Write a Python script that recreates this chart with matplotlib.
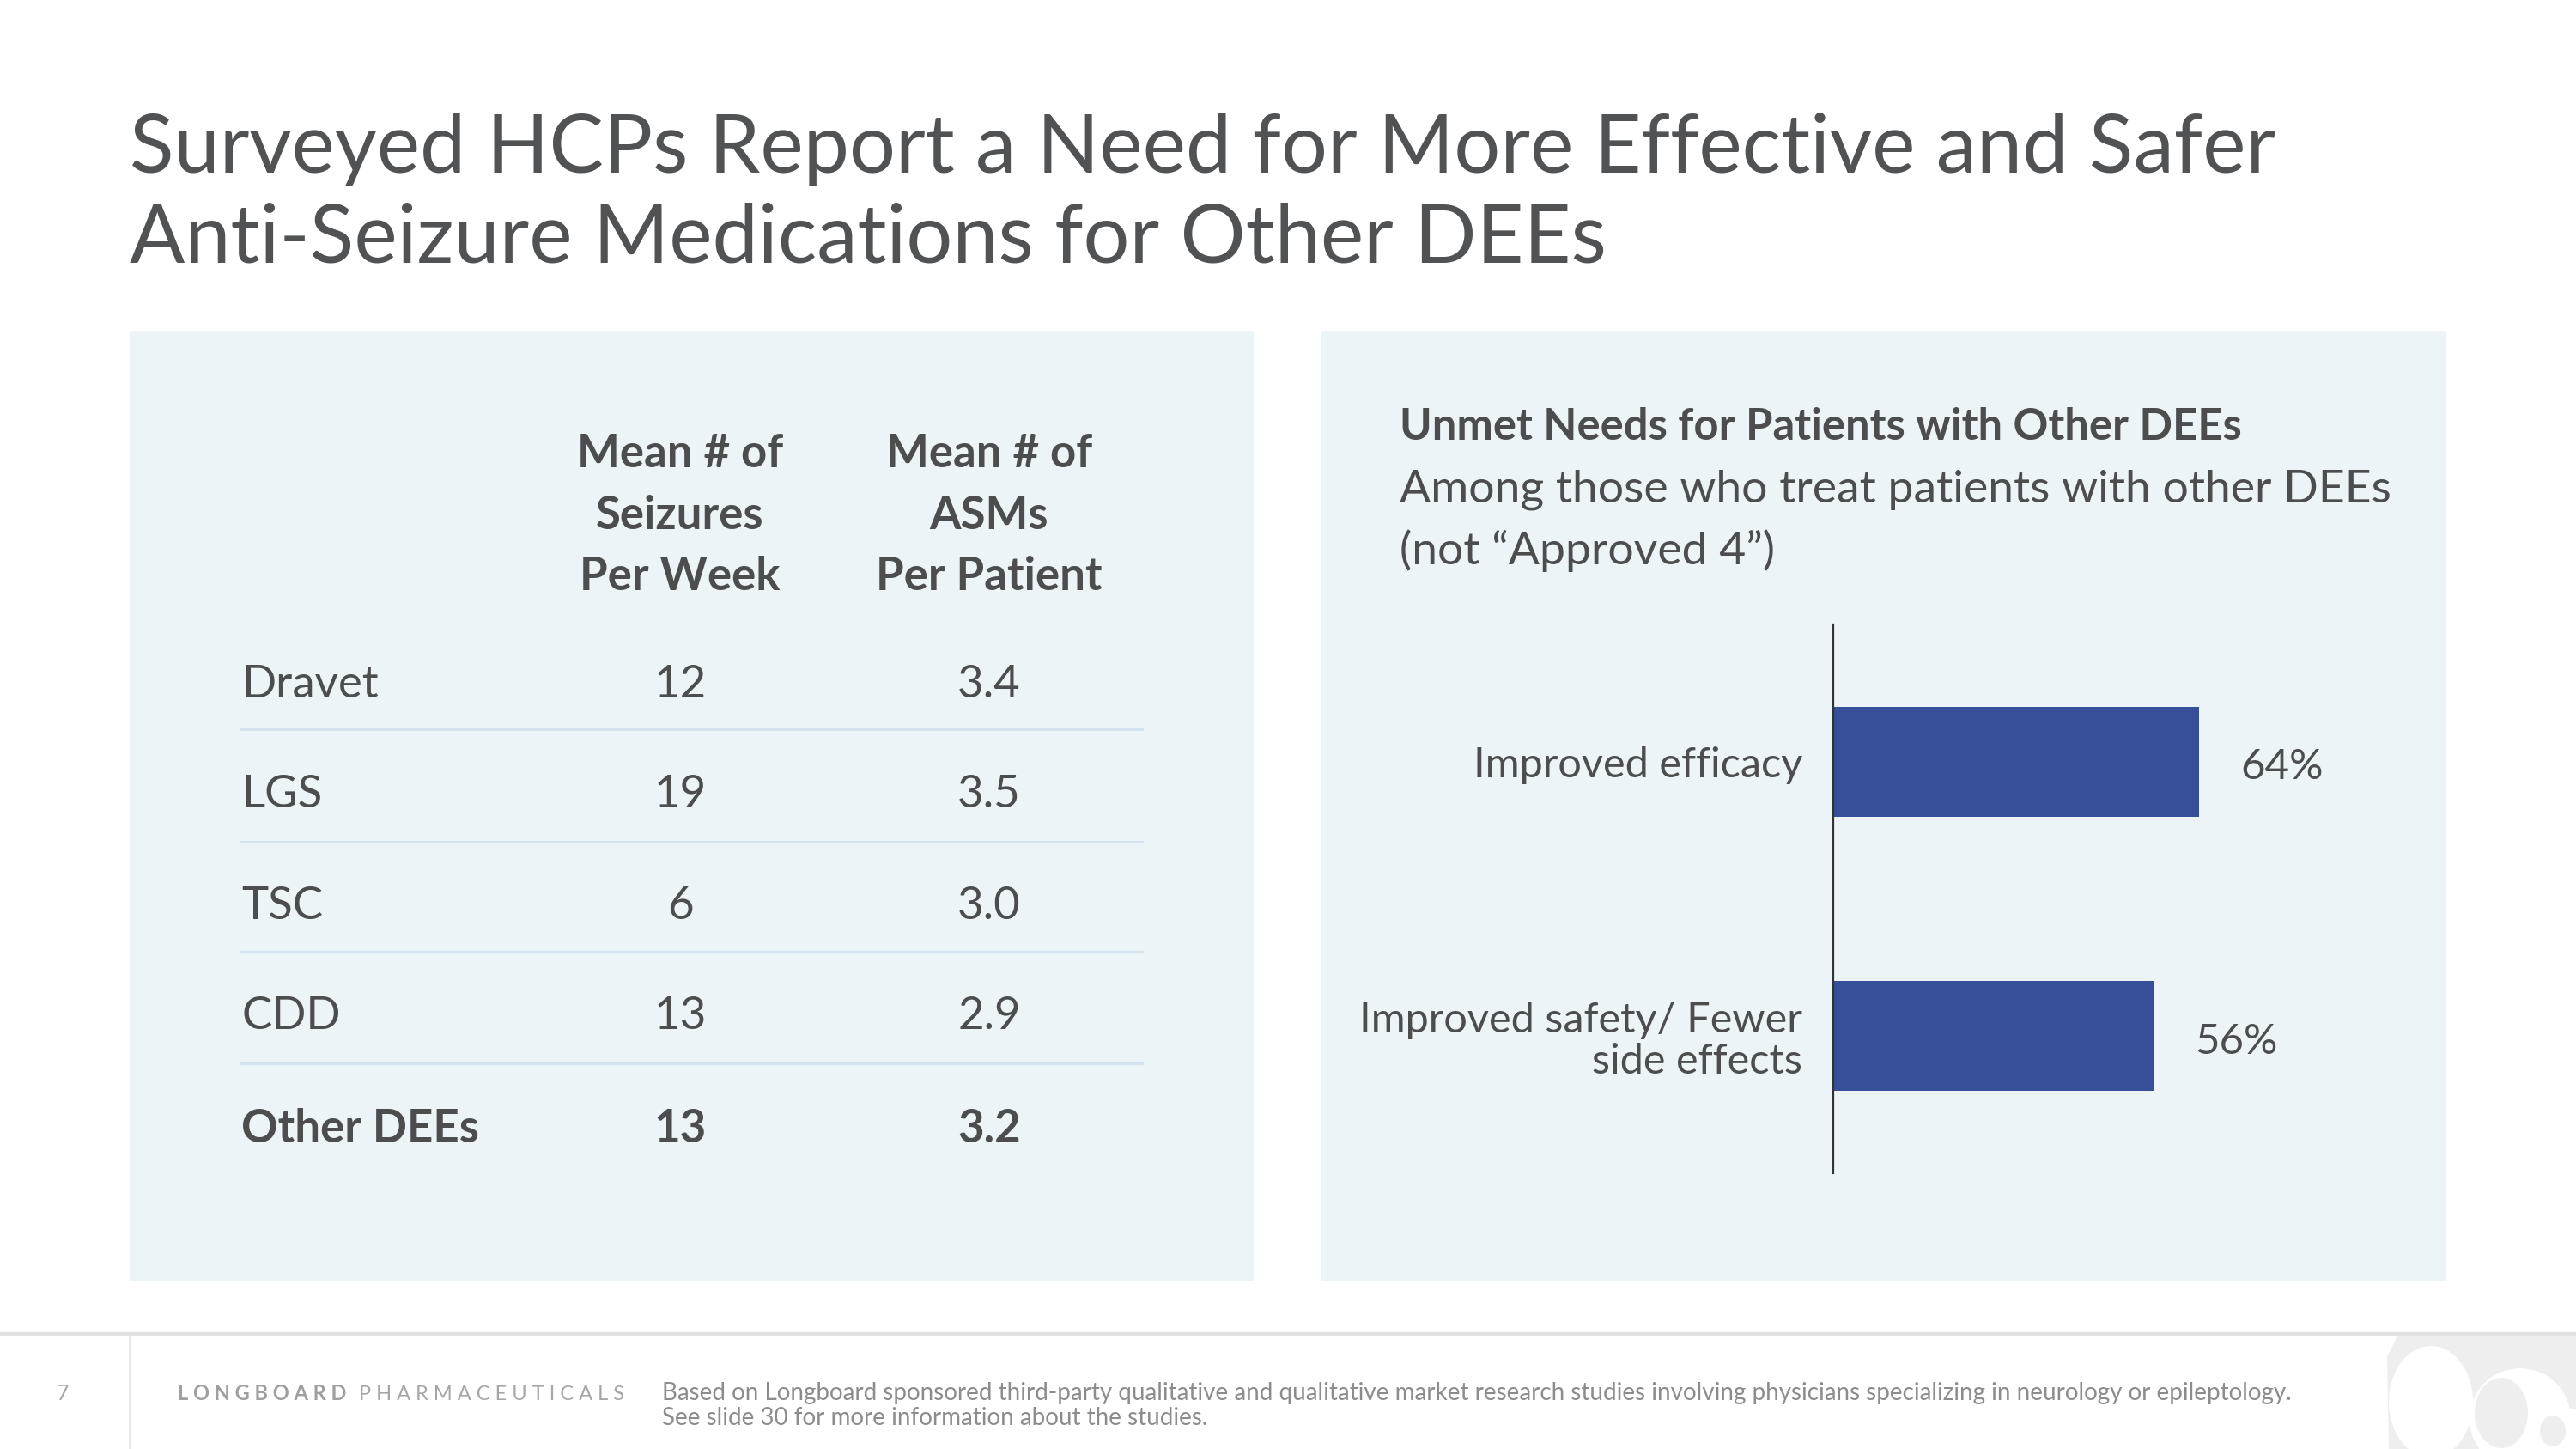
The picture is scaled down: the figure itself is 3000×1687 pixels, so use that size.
import matplotlib
matplotlib.use("Agg")
import matplotlib.pyplot as plt
from matplotlib.patches import Rectangle, Ellipse, Polygon
from matplotlib.lines import Line2D

# ---------------- data ----------------
title_lines = ["Surveyed HCPs Report a Need for More Effective and Safer",
               "Anti-Seizure Medications for Other DEEs"]
col_headers = [["Mean # of", "Seizures", "Per Week"],
               ["Mean # of", "ASMs", "Per Patient"]]
conditions = ["Dravet", "LGS", "TSC", "CDD", "Other DEEs"]
seizures_per_week = ["12", "19", "6", "13", "13"]
asms_per_patient = ["3.4", "3.5", "3.0", "2.9", "3.2"]

chart_title = "Unmet Needs for Patients with Other DEEs"
chart_sub = ["Among those who treat patients with other DEEs", "(not \u201cApproved 4\u201d)"]
need_labels = ["Improved efficacy", "Improved safety/ Fewer\nside effects"]
need_values = [64, 56]

page_num = "7"
company_bold = "LONGBOARD"
company_rest = "PHARMACEUTICALS"
footnote = ["Based on Longboard sponsored third-party qualitative and qualitative market research studies involving physicians specializing in neurology or epileptology.",
            "See slide 30 for more information about the studies."]

# ---------------- style ----------------
W, H = 3000, 1687
FONT = "Lato"
TXT = "#4b4d4f"
PANEL = "#edf4f8"
BAR = "#374f98"
SEP = "#d3e2ec"

plt.rcParams["font.family"] = [FONT, "DejaVu Sans"]

fig = plt.figure(figsize=(30, 16.87), dpi=100)
fig.patch.set_facecolor("white")


def fx(x):
    return x / W


def fy(y):
    return 1 - y / H


def ftext(x, y, s, **kw):
    return fig.text(fx(x), fy(y), s, **kw)


# title
for i, line in enumerate(title_lines):
    ftext(151, 201 + i * 105, line, fontsize=68.5, fontweight="normal",
          color="#505254", ha="left", va="baseline")

# panels
for x0, x1 in [(151, 1460), (1538, 2849)]:
    fig.add_artist(Rectangle((fx(x0), fy(1491)), fx(x1 - x0), (1491 - 385) / H,
                             transform=fig.transFigure, facecolor=PANEL,
                             edgecolor="none", zorder=0))

# table
col_x = [792, 1152]
header_y = [528, 601, 672]
for cx, hdr in zip(col_x, col_headers):
    for hy, line in zip(header_y, hdr):
        ftext(cx, hy, line, fontsize=38, fontweight="bold", color=TXT,
              ha="center", va="center")

row_y = [797, 925, 1055, 1184, 1314]
sep_y = [849, 980, 1108, 1238]
for i, (cond, s, a) in enumerate(zip(conditions, seizures_per_week, asms_per_patient)):
    wt = "bold" if i == len(conditions) - 1 else "normal"
    ftext(281, row_y[i], cond, fontsize=38, fontweight=wt, color=TXT,
          ha="left", va="center")
    ftext(col_x[0], row_y[i], s, fontsize=38, fontweight=wt, color=TXT,
          ha="center", va="center")
    ftext(col_x[1], row_y[i], a, fontsize=38, fontweight=wt, color=TXT,
          ha="center", va="center")
for sy in sep_y:
    fig.add_artist(Line2D([fx(281), fx(1330)], [fy(sy), fy(sy)],
                          transform=fig.transFigure, color=SEP, lw=2.2))

# right panel header
ftext(1630, 498, chart_title, fontsize=36.5, fontweight="bold", color=TXT,
      ha="left", va="center")
for i, line in enumerate(chart_sub):
    ftext(1630, 570 + i * 71, line, fontsize=38.5, fontweight="normal",
          color=TXT, ha="left", va="center")

# bar chart
ax_left, ax_right, ax_top, ax_bot = 2135, 2801, 727, 1366
ax = fig.add_axes([fx(ax_left), fy(ax_bot), fx(ax_right - ax_left),
                   (ax_bot - ax_top) / H])
ax.set_facecolor("none")
ypos = list(range(len(need_values)))
ax.barh(ypos, need_values, height=0.4, color=BAR, zorder=2)
ax.set_xlim(0, 100)
ax.set_ylim(len(need_values) - 0.5, -0.5)
for sp in ["top", "right", "bottom"]:
    ax.spines[sp].set_visible(False)
ax.spines["left"].set_color("#333333")
ax.spines["left"].set_linewidth(1.6)
ax.set_xticks([])
ax.set_yticks(ypos)
ax.set_yticklabels(need_labels, fontsize=35, color=TXT, ha="right",
                   linespacing=1.1)
ax.tick_params(axis="y", length=0, pad=26)
for yv, v in zip(ypos, need_values):
    ax.text(v + 14.5, yv + 0.02, f"{v}%", fontsize=35.5, color=TXT, ha="center",
            va="center")

# footer
fig.add_artist(Line2D([0, 1], [fy(1553), fy(1553)], transform=fig.transFigure,
                      color="#e2e2e2", lw=3))
fig.add_artist(Line2D([fx(151), fx(151)], [fy(1556), 0], transform=fig.transFigure,
                      color="#e6e6e6", lw=2))
ftext(73, 1623, page_num, fontsize=18, color="#a6a6a6", ha="center",
      va="center", fontweight="normal")
ftext(207, 1623, " ".join(company_bold), fontsize=17, fontweight="bold",
      color="#9f9f9f", ha="left", va="center")
ftext(418, 1623, " ".join(company_rest), fontsize=17, fontweight="normal",
      color="#a6a6a6", ha="left", va="center")
for i, line in enumerate(footnote):
    ftext(771, 1622 + i * 29, line, fontsize=20, fontweight="normal",
          color="#8c8c8c", ha="left", va="center")

# decorative logo waves (bottom-right)
axl = fig.add_axes([fx(2700), 0, fx(300), (H - 1555) / H])
axl.set_xlim(2700, 3000)
axl.set_ylim(H, 1555)
axl.axis("off")
LOGO = "#eeeeee"
axl.add_patch(Polygon([(2792, 1555), (3000, 1555), (3000, H), (2782, H),
                       (2780, 1580)], closed=True, facecolor=LOGO,
                      edgecolor="none"))
axl.add_patch(Ellipse((2831, 1632), 98, 130, facecolor="white", edgecolor="none"))
axl.add_patch(Ellipse((2935, 1652), 118, 118, facecolor="white", edgecolor="none"))
axl.add_patch(Ellipse((2913, 1645), 62, 82, facecolor=LOGO, edgecolor="none"))
axl.add_patch(Ellipse((2990, 1670), 62, 60, facecolor="white", edgecolor="none"))
axl.add_patch(Ellipse((2973, 1666), 30, 36, facecolor=LOGO, edgecolor="none"))

fig.savefig("out.png", dpi=100, facecolor="white")
